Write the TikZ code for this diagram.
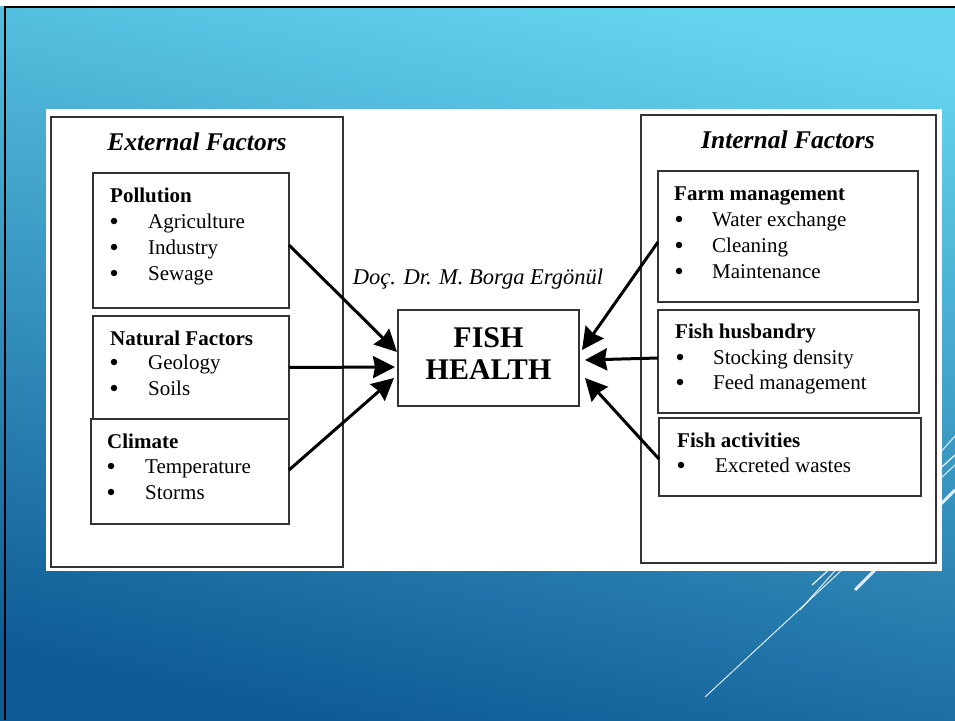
\documentclass[tikz,border=0pt]{standalone}
\usepackage{fontspec}
\setmainfont{Liberation Serif}
\usetikzlibrary{arrows.meta}
\definecolor{bgtop}{HTML}{64D4EE}
\definecolor{bgmid}{HTML}{2E94C6}
\definecolor{bgbot}{HTML}{0F5B96}
\definecolor{boxline}{HTML}{333333}
\begin{document}
\begin{tikzpicture}[x=1pt,y=-1pt,
  box/.style={draw=boxline, line width=1.8pt, fill=white, inner sep=0pt, outer sep=0pt},
  ttl/.style={font=\fontsize{21}{24}\selectfont\bfseries, anchor=base west, inner sep=0pt},
  itm/.style={font=\fontsize{21}{24}\selectfont, anchor=base west, inner sep=0pt},
  bul/.style={circle, fill=black, inner sep=0pt, minimum size=6.5pt},
  head/.style={font=\fontsize{25.5}{30}\selectfont\bfseries\itshape, anchor=base, inner sep=0pt},
  big/.style={font=\fontsize{30}{33}\selectfont\bfseries, anchor=base, inner sep=0pt},
  arr/.style={line width=3pt, -{Stealth[length=22pt,width=22pt,inset=2pt]}},
  deco/.style={white, opacity=0.85}]
\useasboundingbox (0,0) rectangle (955,720);
% background
\shade[top color=bgtop, middle color=bgmid, bottom color=bgbot, shading angle=-12] (0,0) rectangle (955,720);
\fill[white] (0,0) rectangle (955,6);
\draw[line width=2pt, black] (4,7) -- (955,7);
\draw[line width=2pt, black] (5,7) -- (5,720);
% decorative lines
\draw[deco, line width=1pt] (705,697) -- (955,465);
\draw[deco, line width=1pt] (800,610) -- (955,436);
\draw[deco, line width=1.3pt] (812,585) -- (955,455);
\draw[deco, line width=3pt] (855,590) -- (955,490);
% white panel
\fill[white] (46,109) rectangle (942,571);
% outer boxes
\node[box, minimum width=292pt, minimum height=450pt] (ext) at (197,342) {};
\node[box, minimum width=295pt, minimum height=448pt] (int) at (788.5,339) {};
\node[head] (extT) at (197,150) {External Factors};
\node[head] (intT) at (788,148) {Internal Factors};
% external sub boxes
\node[box, minimum width=196pt, minimum height=135pt] (poll) at (191,240.5) {};
\node[box, minimum width=196pt, minimum height=103pt] (nat) at (191,367.5) {};
\node[box, minimum width=198pt, minimum height=105pt] (clim) at (190,471.5) {};
% internal sub boxes
\node[box, minimum width=260pt, minimum height=131pt] (farm) at (788,236.5) {};
\node[box, minimum width=261pt, minimum height=103pt] (husb) at (788.5,361.5) {};
\node[box, minimum width=262pt, minimum height=78pt] (act) at (790,457) {};
% fish health
\node[box, minimum width=181pt, minimum height=96pt] (fish) at (488.5,358) {};
\node[big] (fishA) at (488.5,347) {FISH};
\node[big] (fishB) at (488.5,379) {HEALTH};
\node[font=\fontsize{22.5}{25}\selectfont\itshape, anchor=base, inner sep=0pt] (sig) at (478,284) {Doç. Dr. M. Borga Ergönül};
% pollution
\node[ttl] (pT) at (110,202) {Pollution};
\node[bul] (pb1) at (114,221) {}; \node[itm] (p1) at (148,228) {Agriculture};
\node[bul] (pb2) at (114,247) {}; \node[itm] (p2) at (148,254) {Industry};
\node[bul] (pb3) at (114,273) {}; \node[itm] (p3) at (148,280) {Sewage};
% natural
\node[ttl] (nT) at (110,345) {Natural Factors};
\node[bul] (nb1) at (114,362) {}; \node[itm] (n1) at (148,369) {Geology};
\node[bul] (nb2) at (114,388) {}; \node[itm] (n2) at (148,395) {Soils};
% climate
\node[ttl] (cT) at (107,448) {Climate};
\node[bul] (cb1) at (111,466) {}; \node[itm] (c1) at (145,473) {Temperature};
\node[bul] (cb2) at (111,492) {}; \node[itm] (c2) at (145,499) {Storms};
% farm
\node[ttl] (fT) at (674,200) {Farm management};
\node[bul] (fb1) at (679,219) {}; \node[itm] (f1) at (712,226) {Water exchange};
\node[bul] (fb2) at (679,245) {}; \node[itm] (f2) at (712,252) {Cleaning};
\node[bul] (fb3) at (679,271) {}; \node[itm] (f3) at (712,278) {Maintenance};
% husbandry
\node[ttl] (hT) at (675,338) {Fish husbandry};
\node[bul] (hb1) at (680,357) {}; \node[itm] (h1) at (713,364) {Stocking density};
\node[bul] (hb2) at (680,382) {}; \node[itm] (h2) at (713,389) {Feed management};
% activities
\node[ttl] (aT) at (677,447) {Fish activities};
\node[bul] (ab1) at (681,465) {}; \node[itm] (a1) at (715,472) {Excreted wastes};
% arrows
\draw[arr] ([yshift=-4.5pt]poll.east) -- ([xshift=-1pt,yshift=6pt]fish.west);
\draw[arr] (nat.east) -- ([xshift=-3pt,yshift=-9pt]fish.west);
\draw[arr] ([yshift=1.5pt]clim.east) -- ([xshift=-4pt,yshift=-20pt]fish.west);
\draw[arr] ([yshift=-5.5pt]farm.west) -- ([xshift=3pt,yshift=8pt]fish.east);
\draw[arr] ([yshift=3.5pt]husb.west) -- ([xshift=6pt,yshift=-2pt]fish.east);
\draw[arr] ([yshift=-2pt]act.west) -- ([xshift=6pt,yshift=-20pt]fish.east);
\end{tikzpicture}
\end{document}
